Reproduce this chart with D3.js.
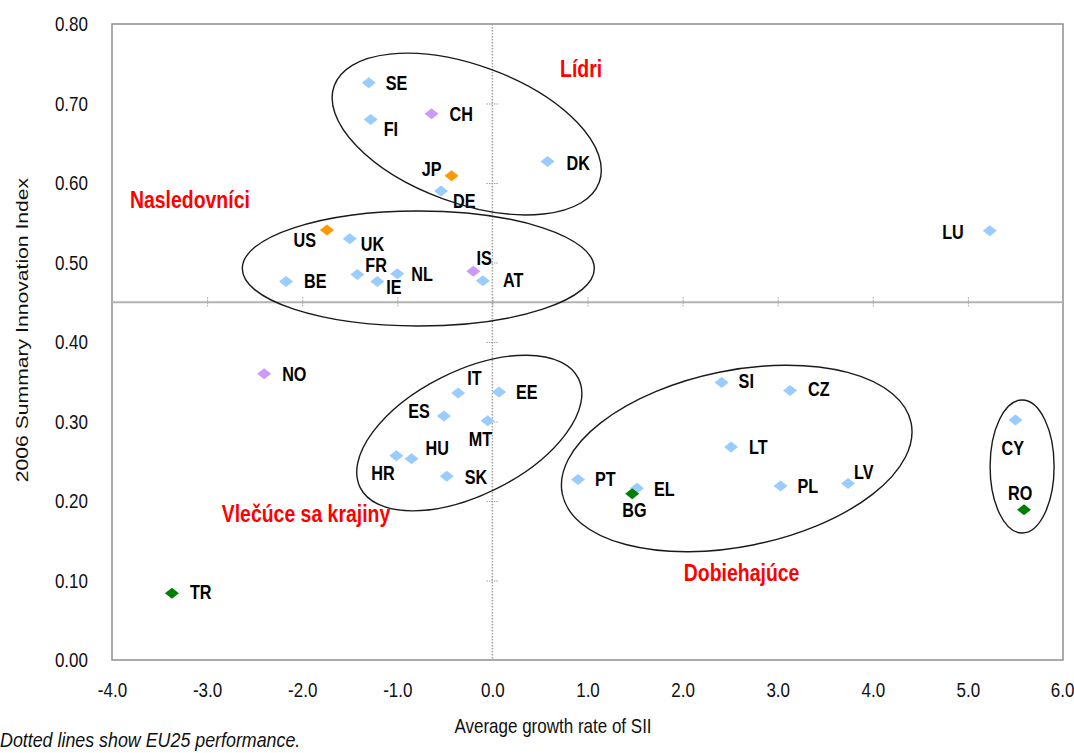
<!DOCTYPE html>
<html>
<head>
<meta charset="utf-8">
<script src="https://cdn.jsdelivr.net/npm/d3@7"></script>
<style>
  html, body { margin: 0; padding: 0; background: #fff; }
  svg { display: block; }
  text { font-family: Arial, "Liberation Sans", sans-serif; }
</style>
</head>
<body>
<svg id="chart" width="1074" height="753"></svg>
<script>
// ---------- data ----------
const countries = ["SE","FI","CH","JP","DE","DK","US","UK","BE","FR","IE","NL","IS","AT","LU","NO","IT","EE","ES","MT","HU","HR","SK","SI","CZ","LT","PT","EL","BG","PL","LV","CY","RO","TR"];
const growth    = [-1.30,-1.28,-0.64,-0.43,-0.54,0.58,-1.74,-1.50,-2.17,-1.42,-1.21,-1.00,-0.20,-0.10,5.23,-2.40,-0.36,0.07,-0.51,-0.05,-0.85,-1.01,-0.48,2.41,3.13,2.51,0.90,1.52,1.47,3.03,3.74,5.50,5.59,-3.37];
const sii       = [0.726,0.680,0.687,0.609,0.590,0.627,0.541,0.530,0.476,0.485,0.476,0.486,0.489,0.477,0.540,0.360,0.336,0.337,0.307,0.301,0.253,0.257,0.231,0.349,0.339,0.268,0.227,0.216,0.209,0.219,0.222,0.302,0.189,0.084];
const groups    = ["EU","EU","Assoc","Other","EU","EU","Other","EU","EU","EU","EU","EU","Assoc","EU","EU","Assoc","EU","EU","EU","EU","EU","EU","EU","EU","EU","EU","EU","EU","Cand","EU","EU","EU","Cand","Cand"];

const xTicks = [-4,-3,-2,-1,0,1,2,3,4,5,6];
const xTickLabels = ["-4.0","-3.0","-2.0","-1.0","0.0","1.0","2.0","3.0","4.0","5.0","6.0"];
const yTicks = [0,0.1,0.2,0.3,0.4,0.5,0.6,0.7,0.8];
const yTickLabels = ["0.00","0.10","0.20","0.30","0.40","0.50","0.60","0.70","0.80"];
const euGrowth = 0.0;   // EU25 average growth (dotted vertical)
const euSII = 0.45;     // EU25 SII (horizontal line)

// group annotations (text, x, y in data units)
const groupNames = ["Lídri","Nasledovníci","Vlečúce sa krajiny","Dobiehajúce"];
const groupNameX = [0.711,-3.811,-2.846,2.013];
const groupNameY = [0.7333,0.5686,0.1736,0.0994];

// group ellipses (centre in data units)
const ellCx = [-0.27,-0.779,-0.243,2.569,5.570];
const ellCy = [0.6616,0.4925,0.2855,0.2535,0.2434];

// ---------- styles / layout ----------
const ellRx  = [141,176,122,178,32];
const ellRy  = [69,57.5,62,88,66.5];
const ellRot = [20,0,-26.6,-11.5,0];
const colors = {EU:"#99CCFF", Assoc:"#CC99FF", Other:"#FF9900", Cand:"#008000"};
// label offsets (px) relative to the marker: [dx, dy, anchor]
const labelPos = {
  SE:[17,0,"start"], FI:[13,9,"start"], CH:[18,0,"start"], JP:[-10,-7,"end"], DE:[12,10,"start"],
  DK:[19,1,"start"], US:[-11,10,"end"], UK:[11,5,"start"], BE:[18,-1,"start"], FR:[8,-10,"start"],
  IE:[9,5,"start"], NL:[14,0,"start"], IS:[3,-13,"start"], AT:[20,-1,"start"], LU:[-26,1,"end"],
  NO:[18,0,"start"], IT:[9,-15,"start"], EE:[17,0,"start"], ES:[-14,-5,"end"], MT:[-19,18,"start"],
  HU:[14,-11,"start"], HR:[-25,17,"start"], SK:[18,0,"start"], SI:[17,-2,"start"], CZ:[18,-2,"start"],
  LT:[18,0,"start"], PT:[17,-1,"start"], EL:[17,1,"start"], BG:[-10,16,"start"], PL:[17,0,"start"],
  LV:[6,-12,"start"], CY:[-14,28,"start"], RO:[-16,-17,"start"], TR:[18,-1,"start"]
};
const SX = 0.81; // horizontal squeeze of the text

const mLeft = 112, mRight = 1063, mTop = 24, mBottom = 660;
const svg = d3.select("#chart");

const x = d3.scaleLinear().domain([-4, 6]).range([mLeft, mRight]);
const y = d3.scaleLinear().domain([0, 0.8]).range([mBottom, mTop]);

function squeezeText(sel) {
  sel.each(function() {
    const t = d3.select(this);
    const tx = +t.attr("x") || 0;
    t.attr("x", tx / SX).attr("transform", `scale(${SX},1)`);
  });
}

// plot frame
svg.append("rect")
  .attr("x", mLeft).attr("y", mTop)
  .attr("width", mRight - mLeft).attr("height", mBottom - mTop)
  .attr("fill", "none").attr("stroke", "#8f8f8f").attr("stroke-width", 1.5);

// y tick labels
const yAxis = svg.append("g").attr("transform", `translate(${mLeft},0)`)
  .call(d3.axisLeft(y).tickValues(yTicks).tickFormat((d, i) => yTickLabels[i]).tickSize(0).tickPadding(24));
yAxis.select(".domain").remove();
yAxis.selectAll("text").attr("font-size", 21).attr("fill", "#111").attr("font-family", "Arial, 'Liberation Sans', sans-serif")
  .call(squeezeText);

// x tick labels
const xAxis = svg.append("g").attr("transform", `translate(0,${mBottom})`)
  .call(d3.axisBottom(x).tickValues(xTicks).tickFormat((d, i) => xTickLabels[i]).tickSize(0).tickPadding(22));
xAxis.select(".domain").remove();
xAxis.selectAll("text").attr("font-size", 21).attr("fill", "#111").attr("font-family", "Arial, 'Liberation Sans', sans-serif")
  .call(squeezeText);
// keep the last label inside the page
xAxis.selectAll("text").filter(d => d === 6).attr("text-anchor", "end").attr("x", 11 / SX);

// EU25 reference lines
svg.append("line")
  .attr("x1", mLeft).attr("x2", mRight).attr("y1", y(euSII)).attr("y2", y(euSII))
  .attr("stroke", "#b3b3b3").attr("stroke-width", 2);
svg.append("line")
  .attr("x1", x(euGrowth)).attr("x2", x(euGrowth)).attr("y1", mTop).attr("y2", mBottom)
  .attr("stroke", "#a0a0a0").attr("stroke-width", 1.5).attr("stroke-dasharray", "1.5,1.5");

// tick marks along the reference lines
const hTicks = svg.append("g").attr("transform", `translate(0,${y(euSII) - 5})`)
  .call(d3.axisBottom(x).tickValues(xTicks.filter(v => v > -4 && v < 6)).tickSize(10).tickFormat(""));
hTicks.select(".domain").remove();
hTicks.selectAll("line").attr("stroke", "#a0a0a0").attr("stroke-dasharray", "1.5,1");
const vTicks = svg.append("g").attr("transform", `translate(${x(euGrowth) - 6},0)`)
  .call(d3.axisRight(y).tickValues(yTicks.filter(v => v > 0 && v < 0.8)).tickSize(12).tickFormat(""));
vTicks.select(".domain").remove();
vTicks.selectAll("line").attr("stroke", "#a0a0a0").attr("stroke-dasharray", "1.5,1");

// axis titles
svg.append("text")
  .attr("transform", `translate(553,733) scale(${SX},1)`)
  .attr("text-anchor", "middle").attr("font-size", 21).attr("fill", "#111")
  .text("Average growth rate of SII");
svg.append("text")
  .attr("transform", `translate(28,330) rotate(-90) scale(1.23,1)`)
  .attr("text-anchor", "middle").attr("font-size", 17.2).attr("fill", "#111")
  .text("2006 Summary Innovation Index");
svg.append("text")
  .attr("transform", `translate(0,747) scale(0.85,1)`)
  .attr("font-size", 21).attr("font-style", "italic").attr("fill", "#111")
  .text("Dotted lines show EU25 performance.");

// data points
const pts = countries.map((c, i) => ({c, gx: growth[i], s: sii[i], g: groups[i]}));
svg.append("g").selectAll("path").data(pts).join("path")
  .attr("d", "M0,-5.5L7,0L0,5.5L-7,0Z")
  .attr("transform", d => `translate(${x(d.gx)},${y(d.s)})`)
  .attr("fill", d => colors[d.g]);

// country labels
svg.append("g").selectAll("text").data(pts).join("text")
  .attr("transform", d => {
    const p = labelPos[d.c];
    return `translate(${x(d.gx) + p[0]},${y(d.s) + p[1]}) scale(${SX},1)`;
  })
  .attr("dy", "0.36em")
  .attr("text-anchor", d => labelPos[d.c][2])
  .attr("font-size", 20).attr("font-weight", "bold").attr("fill", "#000")
  .text(d => d.c);

// ellipses
svg.append("g").selectAll("ellipse").data(ellCx.map((cx, i) => i)).join("ellipse")
  .attr("transform", i => `translate(${x(ellCx[i])},${y(ellCy[i])}) rotate(${ellRot[i]})`)
  .attr("rx", i => ellRx[i]).attr("ry", i => ellRy[i])
  .attr("fill", "none").attr("stroke", "#1a1a1a").attr("stroke-width", 1.4);

// group names
svg.append("g").selectAll("text").data(groupNames.map((n, i) => i)).join("text")
  .attr("transform", i => `translate(${x(groupNameX[i])},${y(groupNameY[i])}) scale(${SX},1)`)
  .attr("font-size", 24).attr("font-weight", "bold").attr("fill", "#FF0000")
  .text(i => groupNames[i]);
</script>
</body>
</html>
